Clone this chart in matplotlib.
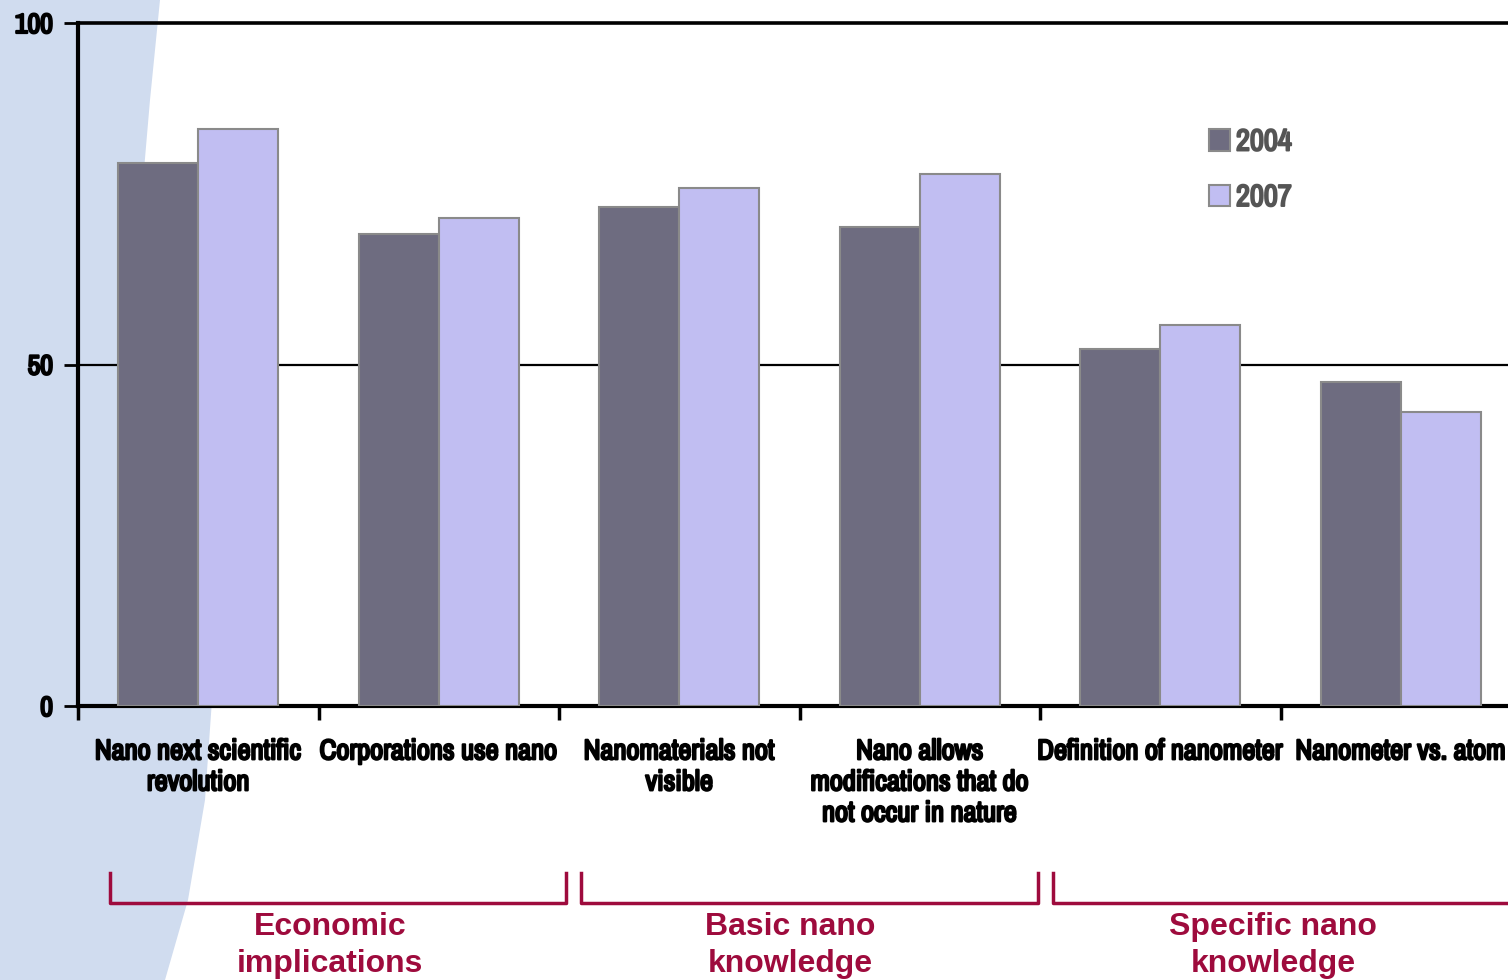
import numpy as np
import matplotlib
matplotlib.use("Agg")
import matplotlib.pyplot as plt
import matplotlib.patheffects as pe
from matplotlib.patches import Polygon
from matplotlib import transforms, font_manager

# data
categories = ["Nano next scientific\nrevolution", "Corporations use nano",
              "Nanomaterials not\nvisible",
              "Nano allows\nmodifications that do\nnot occur in nature",
              "Definition of nanometer", "Nanometer vs. atom"]
vals_2004 = [79.5, 69.1, 73.1, 70.1, 52.3, 47.4]
vals_2007 = [84.5, 71.4, 75.8, 77.9, 55.8, 43.0]
series_names = ["2004", "2007"]
groups = ["Economic\nimplications", "Basic nano\nknowledge", "Specific nano\nknowledge"]
group_spans = [(-0.367, 1.529), (1.591, 3.49), (3.554, 6.2)]
group_centers = [0.548, 2.46, 4.47]

# a narrow bold face if one is around, else plain Arial-like
have = {f.name for f in font_manager.fontManager.ttflist}
wanted = ["Liberation Sans Narrow", "Arial Narrow", "Archivo Narrow",
          "PT Sans Narrow", "Roboto Condensed", "Open Sans Condensed",
          "Fira Sans Condensed", "IBM Plex Sans Condensed", "Liberation Sans"]
narrow_name = next((n for n in wanted if n in have), "DejaVu Sans")
narrow = [narrow_name, "DejaVu Sans"]
arial = ["Liberation Sans", "DejaVu Sans"]
heavy = [pe.withStroke(linewidth=1.6, foreground="black")]
heavy_grey = [pe.withStroke(linewidth=1.4, foreground="#555555")]

col04 = "#6e6c80"
col07 = "#c1bef2"
crimson = "#9e0b3d"

fig = plt.figure(figsize=(15.08, 9.8), dpi=100)

# light blue swoosh at the left
W, H = 1508, 980
pts = [(0, 0), (160, 0), (150, 100), (144, 170), (165, 350), (195, 550),
       (212, 700), (205, 800), (188, 900), (165, 980), (0, 980)]
swoosh = Polygon([(x / W, 1 - y / H) for x, y in pts], closed=True,
                 transform=fig.transFigure, facecolor="#d0dcef",
                 edgecolor="none", zorder=-10)
fig.patches.append(swoosh)

ax = fig.add_axes([78 / W, 1 - 706 / H, 1443 / W, 683 / H])
ax.patch.set_alpha(0)

x = np.arange(len(categories))
w = 1 / 3
b1 = ax.bar(x - w / 2, vals_2004, w, color=col04, edgecolor="#8a8a8a",
            linewidth=1.5, label=series_names[0], zorder=3)
b2 = ax.bar(x + w / 2, vals_2007, w, color=col07, edgecolor="#8a8a8a",
            linewidth=1.5, label=series_names[1], zorder=3)

ax.set_xlim(-0.5, 5.5)
ax.set_ylim(0, 100)
ax.set_yticks([0, 50, 100])
ax.set_yticklabels(["0", "50", "100"], fontfamily=narrow, fontweight="bold",
                   fontsize=20)
for v, lw in [(50, 1.6), (100, 2.6)]:
    ax.axhline(v, color="black", lw=lw, zorder=2, clip_on=False)

ax.set_xticks(x)
ax.set_xticklabels(categories, fontfamily=narrow, fontweight="bold",
                   fontsize=20.5, linespacing=1.3, va="top")
ax.tick_params(axis="x", which="major", length=0, pad=24)
ax.set_xticks(np.arange(-0.5, 6, 1), minor=True)
ax.tick_params(axis="x", which="minor", length=10, width=2.5, direction="out")
ax.tick_params(axis="y", length=10, width=2, direction="out", pad=8)
for t in ax.get_xticklabels() + ax.get_yticklabels():
    t.set_path_effects(heavy)

for s in ["top", "right"]:
    ax.spines[s].set_visible(False)
ax.spines["left"].set_linewidth(3)
ax.spines["bottom"].set_linewidth(3)

# legend
leg = ax.legend(handles=[b1, b2], loc="upper left",
                bbox_to_anchor=(1181 / W, 1 - 100 / H),
                bbox_transform=fig.transFigure, frameon=False,
                handlelength=0.7, handleheight=0.7, handletextpad=0.2,
                labelspacing=0.9,
                prop={"family": narrow, "weight": "bold", "size": 22})
for t in leg.get_texts():
    t.set_color("#555555")
    t.set_path_effects(heavy_grey)

# category group brackets
trans = transforms.blended_transform_factory(ax.transData, ax.transAxes)
y_top, y_bot = -0.2445, -0.288
for (x0, x1), xc, name in zip(group_spans, group_centers, groups):
    ax.plot([x0, x0, x1, x1], [y_top, y_bot, y_bot, y_top], color=crimson,
            lw=2.5, transform=trans, clip_on=False)
    ax.text(xc, -0.302, name, transform=trans, ha="center", va="top",
            color=crimson, fontsize=23, fontweight="bold",
            fontfamily=arial, linespacing=1.3)

fig.savefig("out.png", dpi=100)
